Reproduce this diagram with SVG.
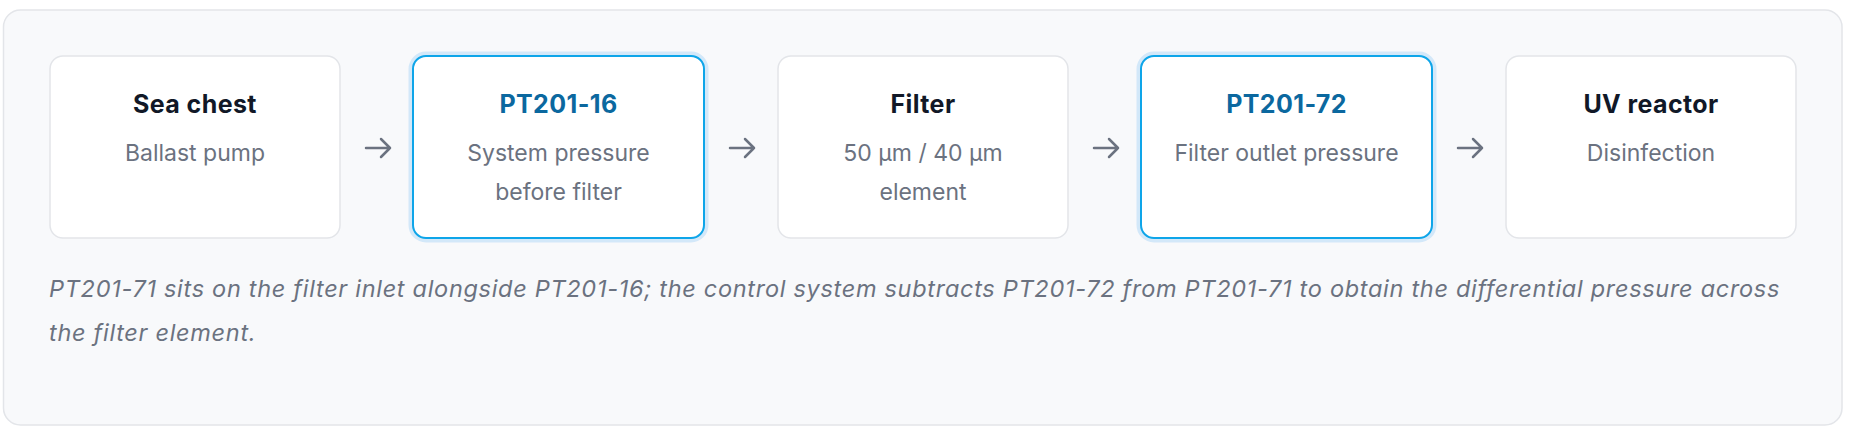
<svg xmlns="http://www.w3.org/2000/svg" width="1852" height="432" viewBox="0 0 1852 432">
  <defs>
    <style>
      .frame { fill: #f8f9fb; stroke: #e3e5e9; stroke-width: 1.5; }
      .box { fill: #ffffff; stroke: #e3e5e9; stroke-width: 1.5; }
      .hbox { fill: #ffffff; stroke: #0ea5e9; stroke-width: 2; }
      .halo { fill: none; stroke: #d3e8f9; stroke-width: 9; }
      .title { font-family: Inter, "Liberation Sans", sans-serif; font-size: 25px; font-weight: 700; letter-spacing: 0.4px; fill: #111827; text-anchor: middle; }
      .stitle { fill: #0b689f; }
      .sub { font-family: Inter, "Liberation Sans", sans-serif; font-size: 23px; font-weight: 400; fill: #6b7280; text-anchor: middle; }
      .cap { font-family: Inter, "Liberation Sans", sans-serif; font-size: 23.5px; font-style: italic; letter-spacing: 0.7px; fill: #6b7280; }
      .arrow { fill: none; stroke: #6b7280; stroke-width: 2.5; stroke-linecap: round; stroke-linejoin: round; }
    </style>
  </defs>
  <rect class="frame" x="3.5" y="10" width="1838.5" height="415" rx="17"/>
  <g id="node-sea-chest">
    <rect class="box" x="50" y="56" width="290" height="182" rx="13"/>
    <text class="title" x="195" y="113">Sea chest</text>
    <text class="sub" x="195" y="161">Ballast pump</text>
  </g>
  <g id="node-pt201-16">
    <rect class="halo" x="413" y="56" width="291" height="182" rx="13"/>
    <rect class="hbox" x="413" y="56" width="291" height="182" rx="13"/>
    <text class="title stitle" x="558.5" y="113">PT201-16</text>
    <text class="sub" x="558.5" y="161">System pressure</text>
    <text class="sub" x="558.5" y="200">before filter</text>
  </g>
  <g id="node-filter">
    <rect class="box" x="778" y="56" width="290" height="182" rx="13"/>
    <text class="title" x="923" y="113">Filter</text>
    <text class="sub" x="923" y="161">50 µm / 40 µm</text>
    <text class="sub" x="923" y="200">element</text>
  </g>
  <g id="node-pt201-72">
    <rect class="halo" x="1141" y="56" width="291" height="182" rx="13"/>
    <rect class="hbox" x="1141" y="56" width="291" height="182" rx="13"/>
    <text class="title stitle" x="1286.5" y="113">PT201-72</text>
    <text class="sub" x="1286.5" y="161">Filter outlet pressure</text>
  </g>
  <g id="node-uv-reactor">
    <rect class="box" x="1506" y="56" width="290" height="182" rx="13"/>
    <text class="title" x="1651" y="113">UV reactor</text>
    <text class="sub" x="1651" y="161">Disinfection</text>
  </g>
  <g id="connectors">
    <path class="arrow" d="M366 148 H390 M381 139 L390 148 L381 157"/>
    <path class="arrow" d="M730 148 H754 M745 139 L754 148 L745 157"/>
    <path class="arrow" d="M1094 148 H1118 M1109 139 L1118 148 L1109 157"/>
    <path class="arrow" d="M1458 148 H1482 M1473 139 L1482 148 L1473 157"/>
  </g>
  <g id="caption">
    <text class="cap" x="49" y="297">PT201-71 sits on the filter inlet alongside PT201-16; the control system subtracts PT201-72 from PT201-71 to obtain the differential pressure across</text>
    <text class="cap" x="49" y="341">the filter element.</text>
  </g>
</svg>
